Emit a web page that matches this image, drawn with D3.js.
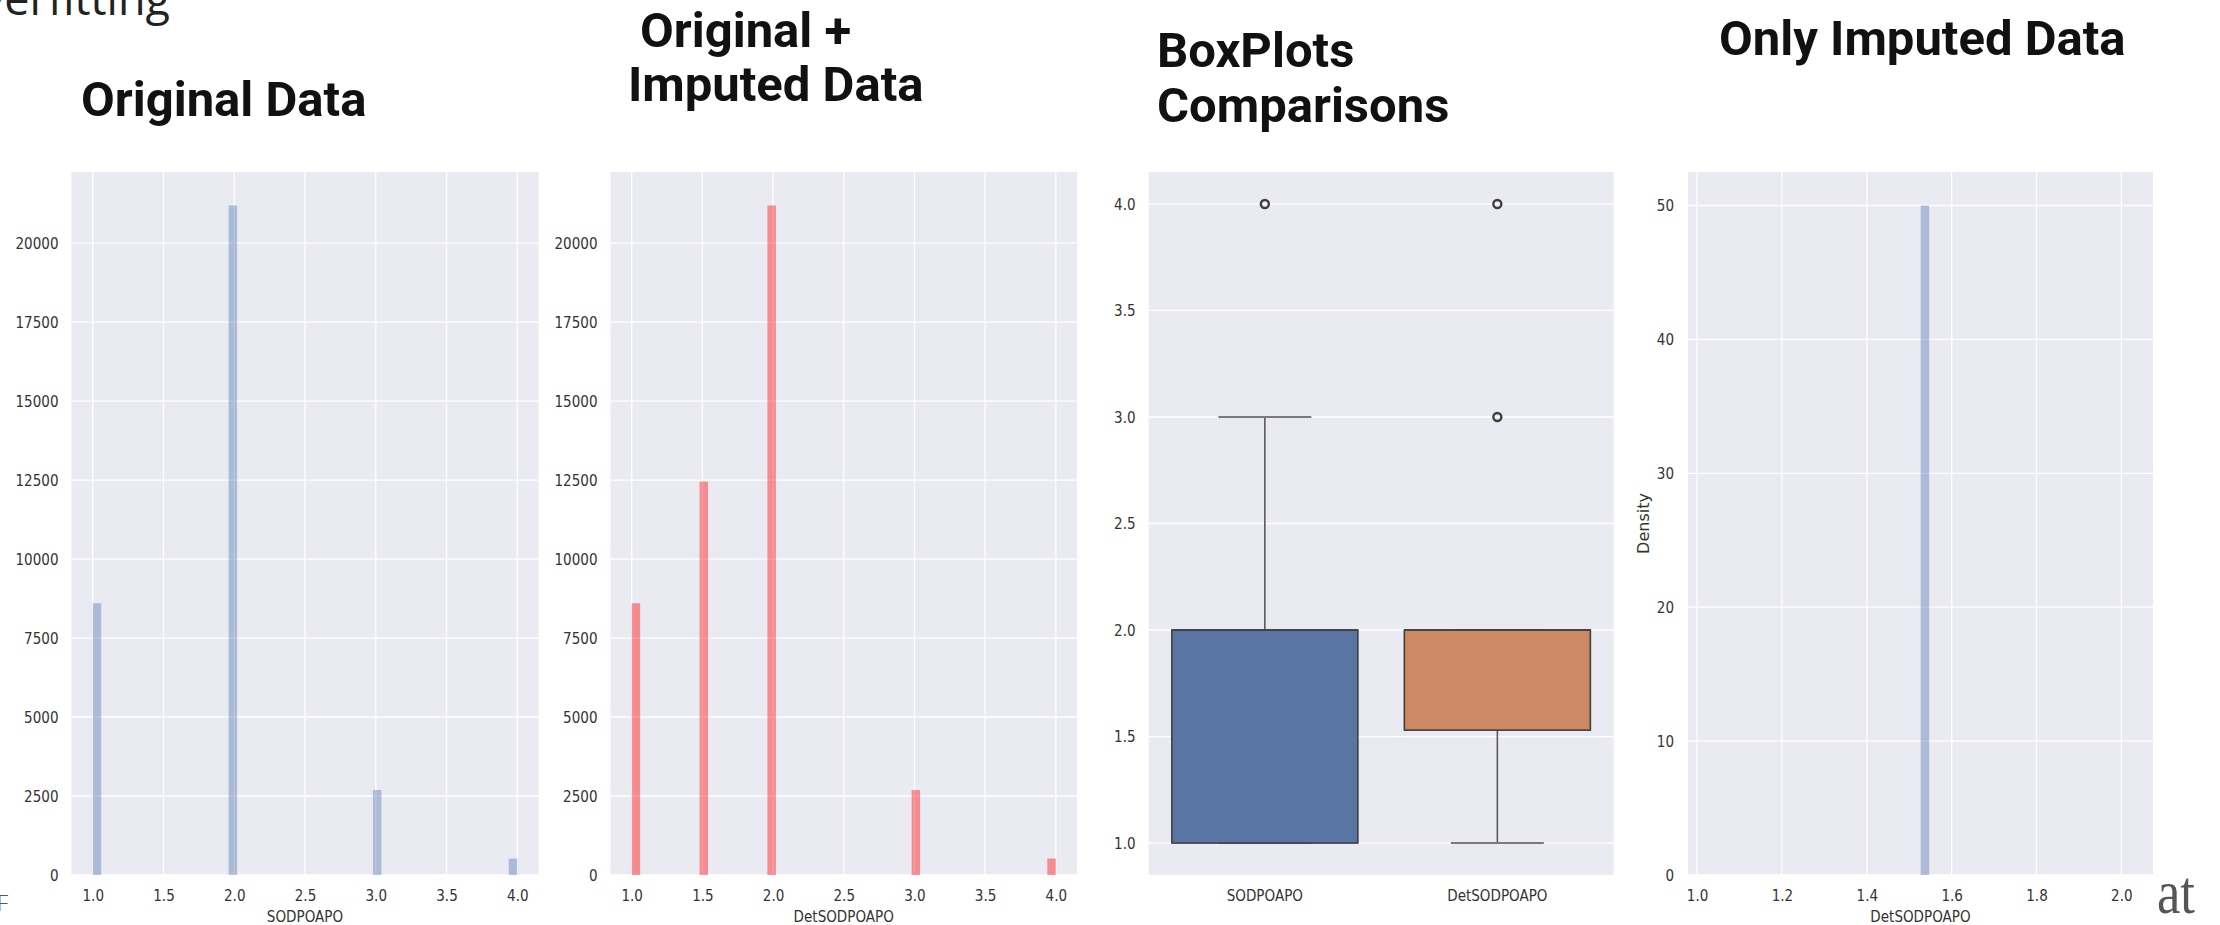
<!DOCTYPE html>
<html>
<head>
<meta charset="utf-8">
<script src="https://cdn.jsdelivr.net/npm/d3@7"></script>
<style>
  body { margin: 0; background: #ffffff; }
  svg { display: block; }
</style>
</head>
<body>
<svg id="chart" width="2220" height="925"></svg>
<script>
// ---- data ----
// Original column: counts per observed level
const originalValues = [1, 2, 3, 4];
const originalCounts = [8600, 21190, 2690, 520];

// Original + imputed column: the imputed level sits near 1.535
const combinedValues = [1, 1.535, 2, 3, 4];
const combinedCounts = [8600, 12450, 21190, 2690, 520];

const histTicks = [1.0, 1.5, 2.0, 2.5, 3.0, 3.5, 4.0];
const countTicks = [0, 2500, 5000, 7500, 10000, 12500, 15000, 17500, 20000];

// Box plot summaries
const boxCategories = ["SODPOAPO", "DetSODPOAPO"];
const boxWhiskerLow = [1.0, 1.0];
const boxQ1 = [1.0, 1.53];
const boxMedian = [2.0, 2.0];
const boxQ3 = [2.0, 2.0];
const boxWhiskerHigh = [3.0, 2.0];
const boxOutliers = [[4.0], [3.0, 4.0]];
const boxColors = ["#5875a4", "#cc8963"];
const boxTicks = [1.0, 1.5, 2.0, 2.5, 3.0, 3.5, 4.0];

// Imputed values only (density histogram)
const imputedBinStart = [1.527];
const imputedBinEnd = [1.547];
const imputedDensity = [50];
const imputedXTicks = [1.0, 1.2, 1.4, 1.6, 1.8, 2.0];
const densityTicks = [0, 10, 20, 30, 40, 50];

// ---- layout ----
const svg = d3.select("#chart");
const BG = "#eaeaf2";
const TICK_FONT = "DejaVu Sans, sans-serif";
const TICK_SIZE = 16.5;
const SQUASH = 0.82;
const plotTop = 172, plotBottom = 875;

const panels = {
  orig: { l: 71.5, r: 538.5 },
  comb: { l: 610.5, r: 1077 },
  box:  { l: 1148.6, r: 1613.6 },
  imp:  { l: 1688, r: 2153 }
};

function squash(sel, k) {
  sel.each(function () {
    const t = d3.select(this);
    const x = +t.attr("x") || 0;
    t.attr("transform", `translate(${x},0) scale(${k},1) translate(${-x},0)`);
  });
}

function frame(p) {
  svg.append("rect")
    .attr("x", p.l).attr("y", plotTop)
    .attr("width", p.r - p.l).attr("height", plotBottom - plotTop)
    .attr("fill", BG);
}

function styleAxis(g) {
  g.select(".domain").remove();
  g.selectAll("text")
    .attr("font-family", TICK_FONT)
    .attr("font-size", TICK_SIZE)
    .attr("fill", "#333");
  squash(g.selectAll("text"), SQUASH);
}

function gridX(p, x, ticks) {
  svg.append("g").selectAll("line").data(ticks).join("line")
    .attr("x1", d => x(d)).attr("x2", d => x(d))
    .attr("y1", plotTop).attr("y2", plotBottom)
    .attr("stroke", "#fff").attr("stroke-width", 1.3);
}
function gridY(p, y, ticks) {
  svg.append("g").selectAll("line").data(ticks).join("line")
    .attr("x1", p.l).attr("x2", p.r)
    .attr("y1", d => y(d)).attr("y2", d => y(d))
    .attr("stroke", "#fff").attr("stroke-width", 1.3);
}

function axisLabel(x, y, text) {
  const t = svg.append("text")
    .attr("x", x).attr("y", y)
    .attr("text-anchor", "middle")
    .attr("font-family", TICK_FONT)
    .attr("font-size", TICK_SIZE)
    .attr("fill", "#333")
    .text(text);
  squash(t, SQUASH);
}

// Count histogram with 50 equal bins over [1, 4]
function countHistogram(p, values, counts, color, xLabel) {
  frame(p);
  const x = d3.scaleLinear().domain([0.85, 4.15]).range([p.l, p.r]);
  const y = d3.scaleLinear().domain([0, d3.max(counts) * 1.05]).range([plotBottom, plotTop]);
  gridX(p, x, histTicks);
  gridY(p, y, countTicks);

  const nBins = 50, w = 3 / nBins;
  const bars = values.map((v, i) => {
    const k = Math.min(nBins - 1, Math.floor((v - 1) / w + 1e-9));
    return { x0: 1 + k * w, x1: 1 + (k + 1) * w, c: counts[i] };
  });
  svg.append("g").selectAll("rect").data(bars).join("rect")
    .attr("x", d => x(d.x0))
    .attr("width", d => x(d.x1) - x(d.x0))
    .attr("y", d => y(d.c))
    .attr("height", d => y(0) - y(d.c))
    .attr("fill", color).attr("fill-opacity", 0.4);

  svg.append("g").attr("transform", `translate(0,${plotBottom})`)
    .call(d3.axisBottom(x).tickValues(histTicks).tickFormat(d3.format(".1f")).tickSize(0).tickPadding(14))
    .call(styleAxis);
  svg.append("g").attr("transform", `translate(${p.l},0)`)
    .call(d3.axisLeft(y).tickValues(countTicks).tickFormat(d3.format("d")).tickSize(0).tickPadding(13))
    .call(styleAxis);
  axisLabel((p.l + p.r) / 2, 922, xLabel);
}

countHistogram(panels.orig, originalValues, originalCounts, "#4c72b0", "SODPOAPO");
countHistogram(panels.comb, combinedValues, combinedCounts, "#ff0000", "DetSODPOAPO");

// ---- box plots ----
(function () {
  const p = panels.box;
  frame(p);
  const x = d3.scaleBand().domain(boxCategories).range([p.l, p.r]);
  const y = d3.scaleLinear().domain([0.85, 4.15]).range([plotBottom, plotTop]);
  gridY(p, y, boxTicks);

  const stroke = "#3f3f3f";
  const bw = x.bandwidth() * 0.8;
  boxCategories.forEach((c, i) => {
    const cx = x(c) + x.bandwidth() / 2;
    const g = svg.append("g");
    // whiskers
    g.append("line").attr("x1", cx).attr("x2", cx)
      .attr("y1", y(boxQ3[i])).attr("y2", y(boxWhiskerHigh[i]))
      .attr("stroke", "#5a5a5a").attr("stroke-width", 1.6);
    g.append("line").attr("x1", cx).attr("x2", cx)
      .attr("y1", y(boxQ1[i])).attr("y2", y(boxWhiskerLow[i]))
      .attr("stroke", "#5a5a5a").attr("stroke-width", 1.6);
    [boxWhiskerLow[i], boxWhiskerHigh[i]].forEach(v => {
      g.append("line").attr("x1", cx - bw / 4).attr("x2", cx + bw / 4)
        .attr("y1", y(v)).attr("y2", y(v))
        .attr("stroke", "#7a7a7a").attr("stroke-width", 2);
    });
    // box
    g.append("rect")
      .attr("x", cx - bw / 2).attr("width", bw)
      .attr("y", y(boxQ3[i])).attr("height", y(boxQ1[i]) - y(boxQ3[i]))
      .attr("fill", boxColors[i]).attr("stroke", stroke).attr("stroke-width", 1.6);
    // median
    g.append("line").attr("x1", cx - bw / 2).attr("x2", cx + bw / 2)
      .attr("y1", y(boxMedian[i])).attr("y2", y(boxMedian[i]))
      .attr("stroke", stroke).attr("stroke-width", 1.6);
    // outliers
    g.selectAll("circle").data(boxOutliers[i]).join("circle")
      .attr("cx", cx).attr("cy", d => y(d)).attr("r", 4)
      .attr("fill", "none").attr("stroke", stroke).attr("stroke-width", 2.4);
  });

  svg.append("g").attr("transform", `translate(0,${plotBottom})`)
    .call(d3.axisBottom(x).tickSize(0).tickPadding(14))
    .call(styleAxis);
  svg.append("g").attr("transform", `translate(${p.l},0)`)
    .call(d3.axisLeft(y).tickValues(boxTicks).tickFormat(d3.format(".1f")).tickSize(0).tickPadding(13))
    .call(styleAxis);
})();

// ---- imputed-only density histogram ----
(function () {
  const p = panels.imp;
  frame(p);
  const x = d3.scaleLinear().domain([0.9786, 2.0746]).range([p.l, p.r]);
  const y = d3.scaleLinear().domain([0, 52.5]).range([plotBottom, plotTop]);
  gridX(p, x, imputedXTicks);
  gridY(p, y, densityTicks);

  const bins = imputedBinStart.map((s, i) => ({ x0: s, x1: imputedBinEnd[i], d: imputedDensity[i] }));
  svg.append("g").selectAll("rect").data(bins).join("rect")
    .attr("x", d => x(d.x0))
    .attr("width", d => x(d.x1) - x(d.x0))
    .attr("y", d => y(d.d))
    .attr("height", d => y(0) - y(d.d))
    .attr("fill", "#4c72b0").attr("fill-opacity", 0.4);

  svg.append("g").attr("transform", `translate(0,${plotBottom})`)
    .call(d3.axisBottom(x).tickValues(imputedXTicks).tickFormat(d3.format(".1f")).tickSize(0).tickPadding(14))
    .call(styleAxis);
  svg.append("g").attr("transform", `translate(${p.l},0)`)
    .call(d3.axisLeft(y).tickValues(densityTicks).tickFormat(d3.format("d")).tickSize(0).tickPadding(14))
    .call(styleAxis);
  axisLabel((p.l + p.r) / 2, 922, "DetSODPOAPO");

  svg.append("text")
    .attr("transform", `translate(1649,${(plotTop + plotBottom) / 2}) rotate(-90)`)
    .attr("text-anchor", "middle")
    .attr("font-family", TICK_FONT)
    .attr("font-size", 16)
    .attr("fill", "#333")
    .text("Density");
})();

// ---- headings ----
const titleFont = "Roboto, sans-serif";
function title(x, y, text) {
  svg.append("text").attr("x", x).attr("y", y)
    .attr("font-family", titleFont).attr("font-weight", 700)
    .attr("font-size", 49).attr("fill", "#111")
    .text(text);
}
title(81, 116, "Original Data");
title(640, 47, "Original +");
title(628, 101, "Imputed Data");
title(1157, 67, "BoxPlots");
title(1157, 122, "Comparisons");
title(1719, 55, "Only Imputed Data");

// slide fragments around the figure
svg.append("text").attr("x", 170).attr("y", 15).attr("text-anchor", "end")
  .attr("font-family", "Open Sans, sans-serif").attr("font-size", 45).attr("fill", "#222")
  .text("Overfitting");
svg.append("text").attr("x", -3).attr("y", 911)
  .attr("font-family", "Open Sans, sans-serif").attr("font-weight", 300)
  .attr("font-size", 22).attr("fill", "#555").text("F");
svg.append("text").attr("x", 2157).attr("y", 913)
  .attr("font-family", "Liberation Serif, serif")
  .attr("font-size", 62).attr("fill", "#555")
  .attr("textLength", 38).attr("lengthAdjust", "spacingAndGlyphs")
  .text("at");
</script>
</body>
</html>
